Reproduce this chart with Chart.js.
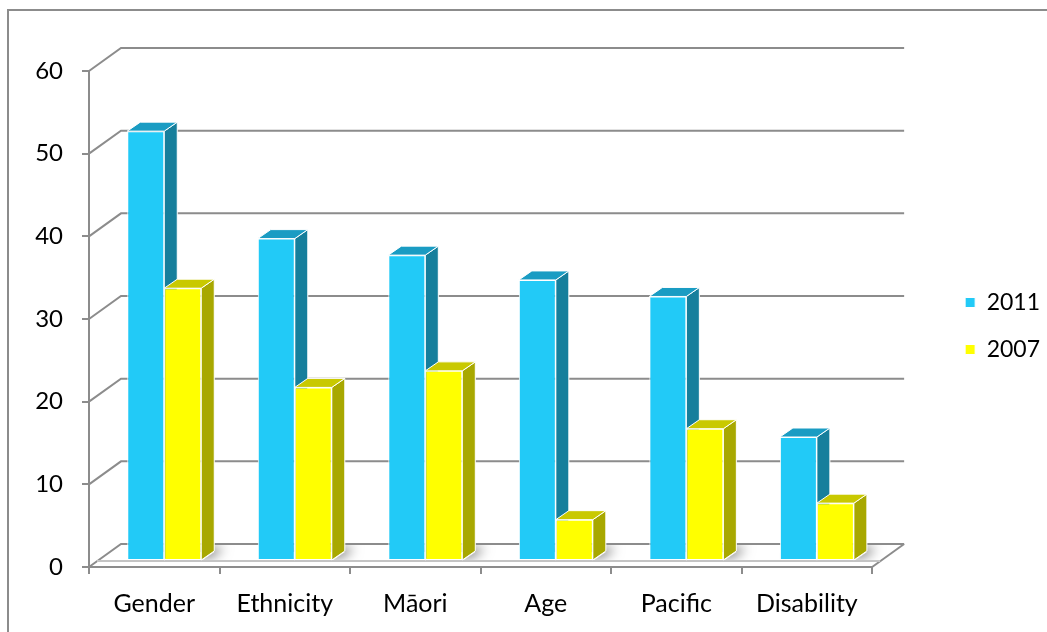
<!DOCTYPE html>
<html>
<head>
<meta charset="utf-8">
<script src="https://cdn.jsdelivr.net/npm/chart.js@4.4.1/dist/chart.umd.min.js"></script>
<style>
  html, body { margin: 0; padding: 0; background: #fff; }
  #wrap { width: 1047px; height: 632px; }
</style>
</head>
<body>
<div id="wrap"><canvas id="chart" width="1047" height="632"></canvas></div>
<script>
// Дані
const categories = ["Gender", "Ethnicity", "Māori", "Age", "Pacific", "Disability"];
const values2011 = [52, 39, 37, 34, 32, 15];
const values2007 = [33, 21, 23, 5, 16, 7];
const yTicks = [0, 10, 20, 30, 40, 50, 60];

// Геометрія псевдо-3D
const WALL_DX = 32, WALL_DY = -23;
const BAR_DX = 10, BAR_DY = -6;
const SIDE_DX = 13, SIDE_DY = -9;
const GRID = "#8c8c8c";
const FONT = { family: "Lato", size: 25 };

const faces = [
  { side: "#167f9c", top: "#1a9cc3" },
  { side: "#a8a800", top: "#c9c900" }
];

function poly(ctx, pts) {
  ctx.beginPath();
  ctx.moveTo(pts[0][0], pts[0][1]);
  for (let i = 1; i < pts.length; i++) ctx.lineTo(pts[i][0], pts[i][1]);
  ctx.closePath();
}

const box3d = {
  id: "box3d",
  beforeDraw(chart) {
    const ctx = chart.ctx;
    ctx.save();
    ctx.strokeStyle = GRID;
    ctx.lineWidth = 2;
    ctx.strokeRect(8, 10, 1100, 700);
    ctx.restore();
  },
  beforeDatasetsDraw(chart) {
    const ctx = chart.ctx;
    const { left, right, bottom } = chart.chartArea;
    const y = chart.scales.y;

    // стіни і сітка
    ctx.save();
    ctx.strokeStyle = GRID;
    ctx.lineWidth = 2;
    yTicks.forEach(v => {
      const py = y.getPixelForValue(v);
      ctx.beginPath();
      ctx.moveTo(left, py);
      ctx.lineTo(left + WALL_DX, py + WALL_DY);
      ctx.lineTo(right + WALL_DX, py + WALL_DY);
      ctx.stroke();
    });
    ctx.beginPath();
    ctx.moveTo(right, bottom);
    ctx.lineTo(right + WALL_DX, bottom + WALL_DY);
    ctx.stroke();

    // передній край підлоги
    ctx.strokeStyle = "#c4c4c4";
    ctx.beginPath();
    ctx.moveTo(left + 8, bottom + BAR_DY);
    ctx.lineTo(right + 8, bottom + BAR_DY);
    ctx.stroke();

    // тіні на підлозі
    poly(ctx, [[left + 8, bottom + BAR_DY - 1], [right + 8, bottom + BAR_DY - 1],
               [right + WALL_DX, bottom + WALL_DY + 1], [left + WALL_DX, bottom + WALL_DY + 1]]);
    ctx.clip();
    const m0 = chart.getDatasetMeta(0).data, m1 = chart.getDatasetMeta(1).data;
    ctx.shadowColor = "rgba(0,0,0,0.6)";
    ctx.shadowBlur = 12;
    ctx.shadowOffsetX = 10;
    ctx.shadowOffsetY = -4;
    ctx.fillStyle = "#fff";
    m0.forEach((el, i) => {
      const gl = el.x - el.width / 2 + BAR_DX;
      const gr = m1[i].x + m1[i].width / 2 + BAR_DX;
      const fb = bottom + BAR_DY;
      poly(ctx, [[gl, fb], [gr, fb], [gr + SIDE_DX, fb + SIDE_DY], [gl + SIDE_DX, fb + SIDE_DY]]);
      ctx.fill();
    });
    ctx.restore();

    // бічні та верхні грані
    ctx.save();
    ctx.translate(BAR_DX, BAR_DY);
    ctx.strokeStyle = "#fff";
    ctx.lineWidth = 1;
    [0, 1].forEach(d => {
      chart.getDatasetMeta(d).data.forEach(el => {
        const xl = el.x - el.width / 2, xr = el.x + el.width / 2;
        const t = el.y, b = el.base;
        poly(ctx, [[xr, t], [xr + SIDE_DX, t + SIDE_DY], [xr + SIDE_DX, b + SIDE_DY], [xr, b]]);
        ctx.fillStyle = faces[d].side;
        ctx.fill();
        ctx.stroke();
        poly(ctx, [[xl, t], [xl + SIDE_DX, t + SIDE_DY], [xr + SIDE_DX, t + SIDE_DY], [xr, t]]);
        ctx.fillStyle = faces[d].top;
        ctx.fill();
        ctx.stroke();
      });
    });
    // передні грані малює сам Chart.js у зсунутих координатах
  },
  afterDatasetsDraw(chart) {
    chart.ctx.restore();
  }
};

const axisGrid = {
  display: true,
  drawOnChartArea: false,
  drawTicks: true,
  tickLength: 7,
  color: GRID,
  lineWidth: 2
};

new Chart(document.getElementById("chart").getContext("2d"), {
  type: "bar",
  data: {
    labels: categories,
    datasets: [
      {
        label: "2011",
        data: values2011,
        backgroundColor: "#22caf7",
        borderColor: "#ffffff",
        borderWidth: 1,
        borderSkipped: false,
        clip: false
      },
      {
        label: "2007",
        data: values2007,
        backgroundColor: "#ffff00",
        borderColor: "#ffffff",
        borderWidth: 1,
        borderSkipped: false,
        clip: false
      }
    ]
  },
  options: {
    responsive: false,
    animation: false,
    categoryPercentage: 0.567,
    barPercentage: 1,
    layout: { padding: { top: 71, left: 0, right: -3, bottom: 0 } },
    scales: {
      x: {
        grid: { ...axisGrid, offset: true },
        border: { display: true, color: GRID, width: 2 },
        ticks: { color: "#000", font: FONT, padding: 15 },
        afterFit(s) { s.height = 65; }
      },
      y: {
        min: 0,
        max: 60,
        grid: axisGrid,
        border: { display: true, color: GRID, width: 2 },
        ticks: { stepSize: 10, color: "#000", font: { family: "Lato", size: 24 }, padding: 19 },
        afterFit(s) { s.width = 89; }
      },
      yR: {
        type: "linear",
        position: "right",
        display: true,
        grid: { display: false },
        border: { display: false },
        ticks: { display: false },
        afterFit(s) { s.width = 69; }
      }
    },
    plugins: {
      legend: {
        position: "right",
        fullSize: false,
        title: { display: true, text: " ", font: { size: 14, lineHeight: 1 }, padding: 0 },
        labels: {
          boxWidth: 10,
          boxHeight: 10,
          padding: 24,
          color: "#000",
          font: { family: "Lato", size: 23 }
        }
      },
      tooltip: { enabled: false }
    }
  },
  plugins: [box3d]
});
</script>
</body>
</html>
